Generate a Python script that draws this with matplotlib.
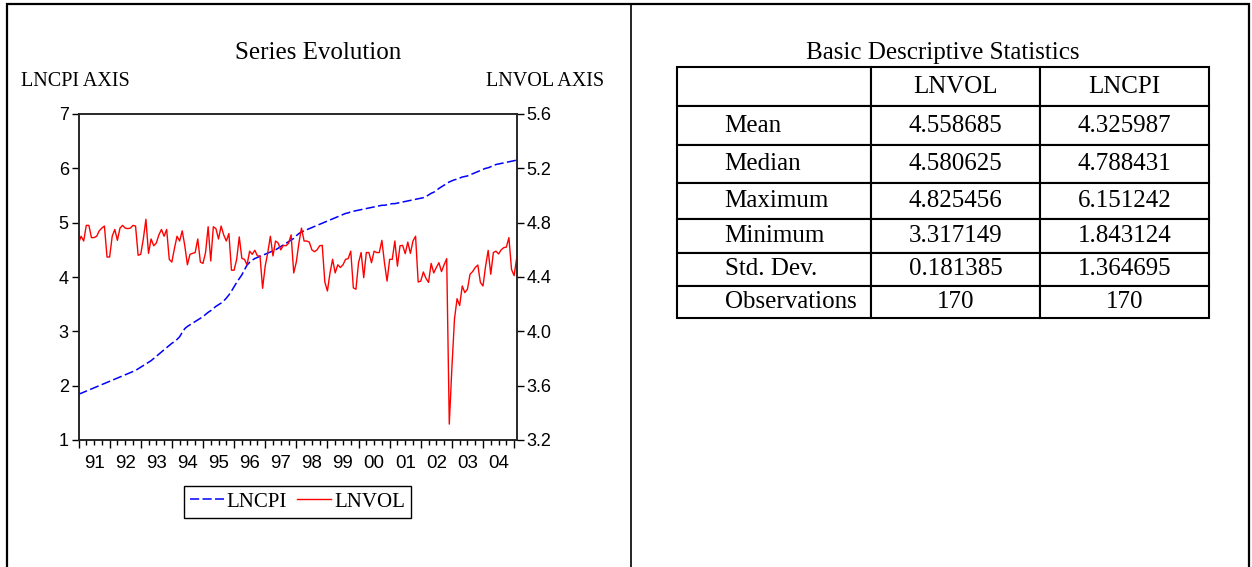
import numpy as np
import matplotlib
matplotlib.use("Agg")
import matplotlib.pyplot as plt
from matplotlib.ticker import FormatStrFormatter, FixedLocator
from matplotlib.table import Table
from matplotlib.lines import Line2D
from matplotlib.patches import Rectangle

plt.rcParams['font.family'] = ['Liberation Serif', 'DejaVu Serif']

# monthly series, 1991M01 - 2005M02 (170 obs)
lncpi = [
    1.843, 1.86, 1.88, 1.90, 1.92, 1.94, 1.96, 1.98, 2.00, 2.02, 2.04, 2.06,   # 1991
    2.08, 2.10, 2.12, 2.14, 2.16, 2.18, 2.20, 2.22, 2.24, 2.26, 2.28, 2.31,    # 1992
    2.34, 2.37, 2.40, 2.43, 2.46, 2.50, 2.54, 2.58, 2.62, 2.66, 2.70, 2.74,    # 1993
    2.78, 2.81, 2.85, 2.90, 2.98, 3.05, 3.09, 3.12, 3.15, 3.18, 3.21, 3.24,    # 1994
    3.27, 3.31, 3.35, 3.38, 3.42, 3.46, 3.49, 3.52, 3.56, 3.61, 3.67, 3.74,    # 1995
    3.82, 3.90, 3.97, 4.04, 4.13, 4.22, 4.27, 4.31, 4.34, 4.36, 4.38, 4.40,    # 1996
    4.42, 4.44, 4.46, 4.48, 4.50, 4.53, 4.56, 4.59, 4.62, 4.65, 4.68, 4.71,    # 1997
    4.76, 4.80, 4.83, 4.85, 4.87, 4.89, 4.91, 4.93, 4.95, 4.97, 4.99, 5.01,    # 1998
    5.03, 5.05, 5.07, 5.09, 5.11, 5.13, 5.15, 5.17, 5.18, 5.20, 5.21, 5.22,    # 1999
    5.23, 5.24, 5.25, 5.26, 5.27, 5.28, 5.29, 5.30, 5.31, 5.32, 5.32, 5.33,    # 2000
    5.34, 5.35, 5.35, 5.36, 5.37, 5.38, 5.39, 5.40, 5.41, 5.42, 5.43, 5.44,    # 2001
    5.45, 5.46, 5.48, 5.51, 5.54, 5.56, 5.59, 5.63, 5.66, 5.69, 5.72, 5.75,    # 2002
    5.77, 5.79, 5.80, 5.82, 5.84, 5.85, 5.86, 5.88, 5.90, 5.92, 5.94, 5.96,    # 2003
    5.98, 6.00, 6.01, 6.03, 6.05, 6.07, 6.08, 6.09, 6.10, 6.11, 6.12, 6.13,    # 2004
    6.14, 6.151,                                                               # 2005
]

lnvol = [
    4.648, 4.70, 4.665, 4.78, 4.78, 4.69, 4.69, 4.70, 4.74, 4.76, 4.775, 4.547,
    4.547, 4.70, 4.75, 4.67, 4.76, 4.78, 4.76, 4.756, 4.76, 4.78, 4.775, 4.56,
    4.567, 4.68, 4.825, 4.574, 4.68, 4.63, 4.65, 4.71, 4.75, 4.70, 4.75, 4.53,
    4.51, 4.61, 4.70, 4.665, 4.74, 4.63, 4.49, 4.567, 4.574, 4.58, 4.68, 4.51,
    4.50, 4.58, 4.77, 4.518, 4.77, 4.756, 4.68, 4.775, 4.71, 4.665, 4.72, 4.45,
    4.45, 4.53, 4.695, 4.537, 4.53, 4.49, 4.59, 4.567, 4.597, 4.555, 4.555, 4.317,
    4.48, 4.58, 4.70, 4.555, 4.665, 4.65, 4.60, 4.633, 4.63, 4.648, 4.71, 4.43,
    4.51, 4.65, 4.76, 4.665, 4.665, 4.657, 4.60, 4.586, 4.60, 4.63, 4.633, 4.363,
    4.297, 4.43, 4.53, 4.43, 4.49, 4.47, 4.49, 4.53, 4.535, 4.59, 4.32, 4.31,
    4.505, 4.58, 4.395, 4.58, 4.58, 4.505, 4.59, 4.58, 4.58, 4.67, 4.505, 4.37,
    4.53, 4.53, 4.665, 4.48, 4.63, 4.633, 4.572, 4.657, 4.574, 4.665, 4.70, 4.363,
    4.37, 4.437, 4.39, 4.36, 4.50, 4.43, 4.47, 4.505, 4.44, 4.49, 4.535, 3.317,
    3.73, 4.09, 4.24, 4.19, 4.334, 4.285, 4.31, 4.42, 4.44, 4.47, 4.488, 4.36,
    4.334, 4.48, 4.596, 4.42, 4.58, 4.59, 4.57, 4.60, 4.616, 4.62, 4.69, 4.456,
    4.41, 4.54,
]

years = list(range(1991, 2005))
year_labels = [f"{y % 100:02d}" for y in years]

stat_names = ["Mean", "Median", "Maximum", "Minimum", "Std. Dev.", "Observations"]
stat_lnvol = ["4.558685", "4.580625", "4.825456", "3.317149", "0.181385", "170"]
stat_lncpi = ["4.325987", "4.788431", "6.151242", "1.843124", "1.364695", "170"]

W, H = 1252, 567


def fx(x):
    return x / W


def fy(y):
    return 1 - y / H


fig = plt.figure(figsize=(W / 100, H / 100), dpi=100)

# outer frame and divider
fig.add_artist(Rectangle((fx(7), -0.02), fx(1249 - 7), fy(4) + 0.02,
                         transform=fig.transFigure, fill=False, lw=1.6, ec='black'))
fig.add_artist(Line2D([fx(631), fx(631)], [0, fy(4)], transform=fig.transFigure,
                      lw=1.2, color='black'))

# ---- chart ----
ax = fig.add_axes([fx(78.5), fy(440), fx(516.7 - 78.5), (440 - 114) / H])
ax2 = ax.twinx()

t = np.arange(len(lncpi))
l1, = ax.plot(t, lncpi, color='#0000ff', lw=1.1, ls=(0, (6, 2.2)), label='LNCPI')
l2, = ax2.plot(t, lnvol, color='#ff0000', lw=1.0, label='LNVOL')

ax.set_xlim(0, len(t) - 1)
ax.set_ylim(1, 7)
ax.set_yticks(range(1, 8))
ax2.set_ylim(3.2, 5.6)
ax2.set_yticks([3.2, 3.6, 4.0, 4.4, 4.8, 5.2, 5.6])
ax2.yaxis.set_major_formatter(FormatStrFormatter('%.1f'))

year_starts = [12 * i for i in range(len(years) + 1)]
ax.xaxis.set_major_locator(FixedLocator(year_starts))
ax.xaxis.set_minor_locator(FixedLocator(list(range(0, len(t), 3))))
ax.set_xticklabels([])
ax.tick_params(axis='x', which='major', length=6, width=1, direction='out')
ax.tick_params(axis='x', which='minor', length=3.5, width=1, direction='out')

sec = ax.secondary_xaxis('bottom')
sec.set_xticks([12 * i + 6 for i in range(len(years))], year_labels)
sec.tick_params(length=0, pad=11, labelsize=13.5, labelfontfamily='Liberation Sans')
sec.spines['bottom'].set_visible(False)

for a in (ax, ax2):
    for s in a.spines.values():
        s.set_linewidth(1.1)
        s.set_color('#222222')
ax.tick_params(axis='y', length=5, width=1, pad=2, labelsize=13,
               labelfontfamily='Liberation Sans')
ax2.tick_params(axis='y', length=5, width=1, pad=2, labelsize=13,
                labelfontfamily='Liberation Sans')

fig.text(fx(318), fy(53), "Series Evolution", ha='center', va='center', fontsize=18)
fig.text(fx(21), fy(82), "LNCPI AXIS", ha='left', va='center', fontsize=14.5)
fig.text(fx(604), fy(82), "LNVOL AXIS", ha='right', va='center', fontsize=14.5)

leg = fig.legend(handles=[l1, l2], loc='center', bbox_to_anchor=(fx(297.5), fy(502)),
                 ncol=2, fontsize=15, frameon=True, fancybox=False, edgecolor='black',
                 framealpha=1, handlelength=1.6, handletextpad=0.15, columnspacing=0.5,
                 borderpad=0.3, borderaxespad=0)
leg.get_frame().set_linewidth(1.0)

# ---- statistics table ----
fig.text(fx(943), fy(53), "Basic Descriptive Statistics", ha='center', va='center',
         fontsize=18)

tax = fig.add_axes([fx(677), fy(318), fx(1209 - 677), (318 - 67) / H])
tax.axis('off')
col_w = [194, 169, 169]
row_h = [39, 39, 38, 35, 34, 33, 32]
rows = [["", "LNVOL", "LNCPI"]] + [[n, a, b] for n, a, b in zip(stat_names, stat_lnvol, stat_lncpi)]

tab = Table(tax, bbox=[0, 0, 1, 1])
for r, row in enumerate(rows):
    for c, txt in enumerate(row):
        loc = 'left' if (c == 0 and r > 0) else 'center'
        cell = tab.add_cell(r, c, width=col_w[c], height=row_h[r], text=txt, loc=loc,
                            edgecolor='black', facecolor='white')
        if loc == 'left':
            cell.PAD = 0.245
        cell.set_linewidth(1.5)
tab.auto_set_font_size(False)
tab.set_fontsize(18)
tax.add_table(tab)

fig.savefig("out.png", dpi=100)
